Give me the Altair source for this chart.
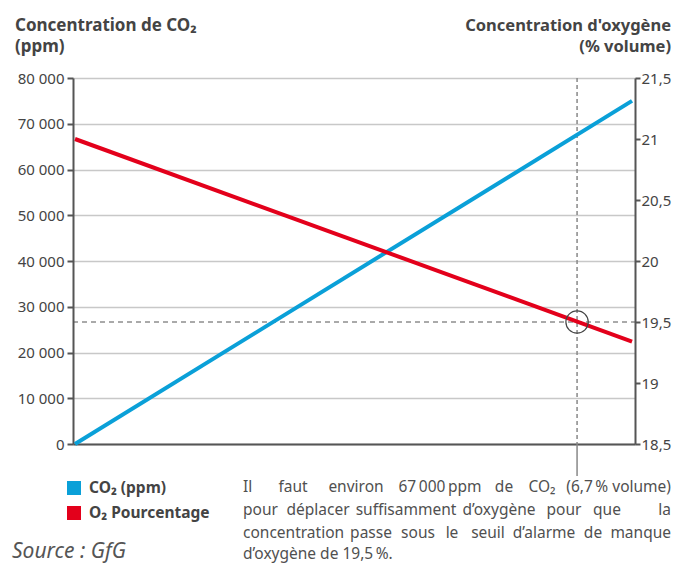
import altair as alt
import pandas as pd

# ---- data ----
ppm = [0, 75000]
co2_ppm = [0, 75000]
o2_pct = [21.0, 19.34]
alarm_ppm = [67600]
alarm_o2 = [19.5]
co2_ticks = [0, 10000, 20000, 30000, 40000, 50000, 60000, 70000, 80000]
o2_ticks = [18.5, 19.0, 19.5, 20.0, 20.5, 21.0, 21.5]

title_left = ["Concentration de CO₂", "(ppm)"]
title_right = ["Concentration d'oxygène", "(% volume)"]
legend_labels = ["CO₂ (ppm)", "O₂ Pourcentage"]
source_text = "Source : GfG"
para_lines = [
    ["Il", "faut", "environ", "67\u202f000\u202fppm", "de", "CO₂", "(6,7\u202f% volume)"],
    ["pour", "déplacer", "suffisamment", "d’oxygène", "pour", "que", "la"],
    ["concentration", "passe", "sous", "le", "seuil", "d’alarme", "de", "manque"],
    ["d’oxygène de 19,5\u202f%."],
]

# ---- layout / style ----
W, H = 562, 366
OX, OY = 73, 78  # page position of the plot origin
FONT = "Noto Sans"
BLUE = "#0aa0d8"
RED = "#e3001b"
AX = "#555555"
TXT = "#444444"
RIGHT = 671
# first word left-aligned, middle words centred, last word right-aligned
para_x = [
    [243, 293, 356, 440, 504, 542, RIGHT],
    [243, 318, 406, 499, 564, 607, RIGHT],
    [243, 371, 418, 452, 488, 544, 593, RIGHT],
    [243],
]
para_y = [487, 510, 533, 554]

df = pd.DataFrame({"ppm": ppm, "co2": co2_ppm, "o2": o2_pct})
alarm = pd.DataFrame({"ppm": alarm_ppm, "o2": alarm_o2})

xscale = alt.Scale(domain=[-270, 75400], nice=False, zero=False)
o2scale = alt.Scale(domain=[18.5, 21.5], nice=False, zero=False)
x_enc = alt.X("ppm:Q", scale=xscale,
              axis=alt.Axis(title=None, labels=False, ticks=False, grid=False,
                            domainColor=AX, domainWidth=2))

co2_line = alt.Chart(df).mark_line(color=BLUE, strokeWidth=4, strokeCap="butt").encode(
    x=x_enc,
    y=alt.Y("co2:Q", scale=alt.Scale(domain=[0, 80000], nice=False),
            axis=alt.Axis(title=None, orient="left", values=co2_ticks,
                          labelExpr="replace(format(datum.value, ','), ',', ' ')",
                          grid=True, gridColor="#c8c8c8", gridWidth=1.5,
                          domainColor=AX, domainWidth=2, tickColor=AX, tickWidth=2,
                          tickSize=6, labelColor=TXT, labelFontSize=15, labelFont=FONT,
                          labelPadding=3)),
)

o2_line = alt.Chart(df).mark_line(color=RED, strokeWidth=4, strokeCap="butt").encode(
    x=x_enc,
    y=alt.Y("o2:Q", scale=o2scale,
            axis=alt.Axis(title=None, orient="right", values=o2_ticks,
                          labelExpr="replace(format(datum.value, '.1~f'), '.', ',')",
                          grid=False, domainColor=AX, domainWidth=2, tickColor=AX,
                          tickWidth=2, tickSize=5, labelColor=TXT, labelFontSize=15,
                          labelFont=FONT, labelPadding=1)),
)

h_dash = alt.Chart(alarm).mark_rule(color="#555555", strokeWidth=1, strokeDash=[5, 4]).encode(
    y=alt.Y("o2:Q", scale=o2scale, axis=None), x=alt.value(0), x2=alt.value(W))

v_dash = alt.Chart(alarm).mark_rule(color="#888888", strokeWidth=1.5, strokeDash=[4, 3]).encode(
    x=x_enc, y=alt.value(0), y2=alt.value(H))

v_solid = alt.Chart(alarm).mark_rule(color="#888888", strokeWidth=1.5).encode(
    x=x_enc, y=alt.value(H), y2=alt.value(H + 32))

circle = alt.Chart(alarm).mark_point(shape="circle", size=500, filled=False,
                                     color="#444444", strokeWidth=1.2, opacity=1).encode(
    x=x_enc, y=alt.Y("o2:Q", scale=o2scale, axis=None))


def txt(text, x, y, size=14, weight="normal", align="left", color=TXT,
        baseline="middle", style="normal"):
    return alt.Chart(pd.DataFrame({"t": [text]})).mark_text(
        align=align, baseline=baseline, font=FONT, fontSize=size, fontWeight=weight,
        fontStyle=style, color=color).encode(
        x=alt.value(x - OX), y=alt.value(y - OY), text="t:N")


def square(color, x, y, s=14):
    return alt.Chart(pd.DataFrame({"a": [0]})).mark_rect(color=color).encode(
        x=alt.value(x - OX), x2=alt.value(x - OX + s),
        y=alt.value(y - OY), y2=alt.value(y - OY + s))


texts = [
    txt(title_left[0], 15, 31, size=17, weight="bold", baseline="alphabetic"),
    txt(title_left[1], 15, 52, size=17, weight="bold", baseline="alphabetic"),
    txt(title_right[0], RIGHT, 31, size=16.5, weight="bold", align="right", baseline="alphabetic"),
    txt(title_right[1], RIGHT, 52, size=16.5, weight="bold", align="right", baseline="alphabetic"),
    square(BLUE, 67, 481),
    square(RED, 67, 506),
    txt(legend_labels[0], 89, 488, size=15.5, weight="bold"),
    txt(legend_labels[1], 89, 513, size=15.5, weight="bold"),
    txt(source_text, 12, 552, size=21, style="italic", color="#555555"),
]
for li, words in enumerate(para_lines):
    n = len(words)
    for wi, w in enumerate(words):
        if wi == 0:
            al = "left"
        elif wi == n - 1:
            al = "right"
        else:
            al = "center"
        texts.append(txt(w, para_x[li][wi], para_y[li], size=15.5,
                         align=al, color="#505050"))

chart = alt.layer(h_dash, v_dash, v_solid, co2_line, o2_line, circle, *texts).resolve_scale(
    y="independent"
).properties(
    width=W, height=H,
    padding={"left": 65, "top": 70, "right": 37, "bottom": 120},
    autosize=alt.AutoSizeParams(type="none"),
).configure_view(stroke=None).configure(background="white")

chart.save("out.html", embed_options={"renderer": "svg", "actions": False})
